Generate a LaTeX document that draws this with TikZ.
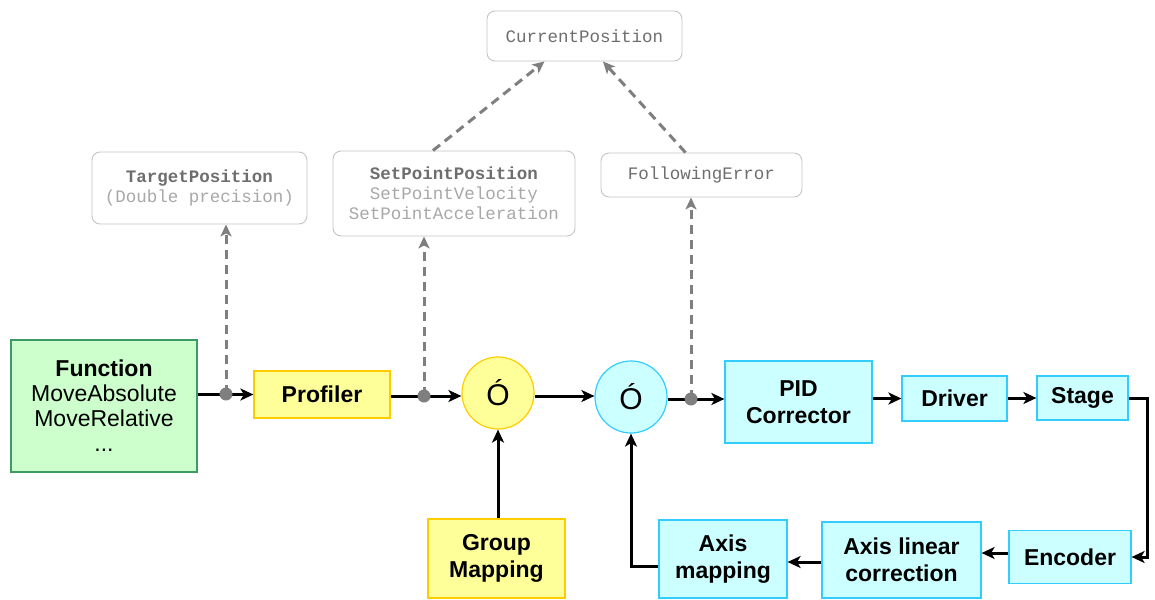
\documentclass[tikz,border=0pt]{standalone}
\usepackage{fontspec}
\setmainfont{Liberation Sans}
\newfontfamily\monofont{Liberation Mono}
\usetikzlibrary{arrows.meta}

\definecolor{greenfill}{HTML}{CCFFCC}
\definecolor{greenline}{HTML}{3C9A64}
\definecolor{yellowfill}{HTML}{FFFF99}
\definecolor{yellowline}{HTML}{FFCC00}
\definecolor{cyanfill}{HTML}{CCFFFF}
\definecolor{cyanline}{HTML}{33CCFF}
\definecolor{infoline}{HTML}{C4C4C4}
\definecolor{infodark}{HTML}{6E6E6E}
\definecolor{infolight}{HTML}{A8A8A8}
\definecolor{tapgray}{HTML}{7F7F7F}

\tikzset{
  block/.style={draw, line width=1.2pt, inner sep=0pt, align=center,
    font=\fontsize{23}{27}\selectfont\bfseries},
  greenbox/.style={block, fill=greenfill, draw=greenline},
  yellowbox/.style={block, fill=yellowfill, draw=yellowline},
  cyanbox/.style={block, fill=cyanfill, draw=cyanline},
  sumnode/.style={circle, draw, line width=1.2pt, minimum size=72pt, inner sep=0pt,
    font=\fontsize{30}{32}\selectfont},
  infobox/.style={draw=infoline, line width=0.9pt, rounded corners=8pt, fill=white,
    inner sep=0pt, align=center, font=\monofont\fontsize{17.5}{20}\selectfont},
  flow/.style={line width=3pt, -{Stealth[length=13pt,width=12pt,inset=3.5pt]}},
  tap/.style={line width=3pt, draw=tapgray, dash pattern=on 9pt off 6pt,
    -{Stealth[length=12pt,width=11pt,inset=3pt]}},
  tapdot/.style={circle, fill=tapgray, minimum size=13pt, inner sep=0pt}
}

\begin{document}
\begin{tikzpicture}[x=1pt, y=-1pt]
\useasboundingbox (0,0) rectangle (1155,599);

% control loop blocks
\node[greenbox, minimum width=186pt, minimum height=132pt] (func) at (104,406)
  {Function\\[-2pt]{\mdseries MoveAbsolute}\\[-2pt]{\mdseries MoveRelative}\\[-2pt]{\mdseries ...}};
\node[yellowbox, minimum width=136pt, minimum height=47pt] (prof) at (322,394.5) {Profiler};
\node[sumnode, fill=yellowfill, draw=yellowline] (sumA) at (498,393) {Ó};
\node[sumnode, fill=cyanfill, draw=cyanline] (sumB) at (631,397) {Ó};
\node[cyanbox, minimum width=147pt, minimum height=82pt] (pid) at (798.5,402) {PID\\Corrector};
\node[cyanbox, minimum width=105pt, minimum height=45pt] (drv) at (954.5,398.5) {Driver};
\node[cyanbox, minimum width=91pt, minimum height=44pt] (stage) at (1082.5,398) {Stage};
\node[cyanbox, minimum width=122pt, minimum height=53pt] (enc) at (1070,557) {Encoder};
\node[cyanbox, minimum width=159pt, minimum height=76pt] (alin) at (901.5,560) {Axis linear\\correction};
\node[cyanbox, minimum width=128pt, minimum height=78pt] (amap) at (723,559) {Axis\\mapping};
\node[yellowbox, minimum width=137pt, minimum height=79pt] (grp) at (496.5,558.5) {Group\\Mapping};

% readable values
\node[infobox, minimum width=215pt, minimum height=72pt] (tgt) at (199.5,188)
  {\textcolor{infodark}{\bfseries TargetPosition}\\\textcolor{infolight}{(Double precision)}};
\node[infobox, minimum width=242pt, minimum height=85pt] (spp) at (454,193.5)
  {\textcolor{infodark}{\bfseries SetPointPosition}\\\textcolor{infolight}{SetPointVelocity}\\\textcolor{infolight}{SetPointAcceleration}};
\node[infobox, minimum width=195pt, minimum height=50pt] (cur) at (584.5,36)
  {\textcolor{infodark}{CurrentPosition}};
\node[infobox, minimum width=201pt, minimum height=44pt] (ferr) at (701.5,175)
  {\textcolor{infodark}{FollowingError}};

% tap points on the forward path
\coordinate (t1) at (226,394);
\coordinate (t2) at (424,396);
\coordinate (t3) at (691,399);
\coordinate (ret) at (1147,398);
\coordinate (fb) at (631,566);

% forward path
\draw[flow] (func.east |- prof.west) -- (prof.west);
\draw[flow] (prof.east |- t2) -- (sumA.west |- t2);
\draw[flow] (sumA.east |- t2) -- (sumB.west |- t2);
\draw[flow] (sumB.east |- t3) -- (pid.west |- t3);
\draw[flow] (pid.east |- drv.west) -- (drv.west);
\draw[flow] (drv.east |- stage.west) -- (stage.west);
\draw[flow] (stage.east) -- (ret) |- (enc.east);

% feedback path
\draw[flow] (enc.west |- 0,553) -- (alin.east |- 0,553);
\draw[flow] (alin.west |- 0,562) -- (amap.east |- 0,562);
\draw[flow] (amap.west |- fb) -- (fb) -- (sumB.south);
\draw[flow] (grp.north -| sumA.south) -- (sumA.south);

% monitored values
\draw[tap] (t1) -- (t1 |- tgt.south);
\draw[tap] (t2) -- (t2 |- spp.south);
\draw[tap] (t3) -- (t3 |- ferr.south);
\draw[tap] ([xshift=-21pt]spp.north) -- ([xshift=-40pt]cur.south);
\draw[tap] ([xshift=-16pt]ferr.north) -- ([xshift=18.5pt]cur.south);

\node[tapdot] (p1) at (t1) {};
\node[tapdot] (p2) at (t2) {};
\node[tapdot] (p3) at (t3) {};
\end{tikzpicture}
\end{document}
